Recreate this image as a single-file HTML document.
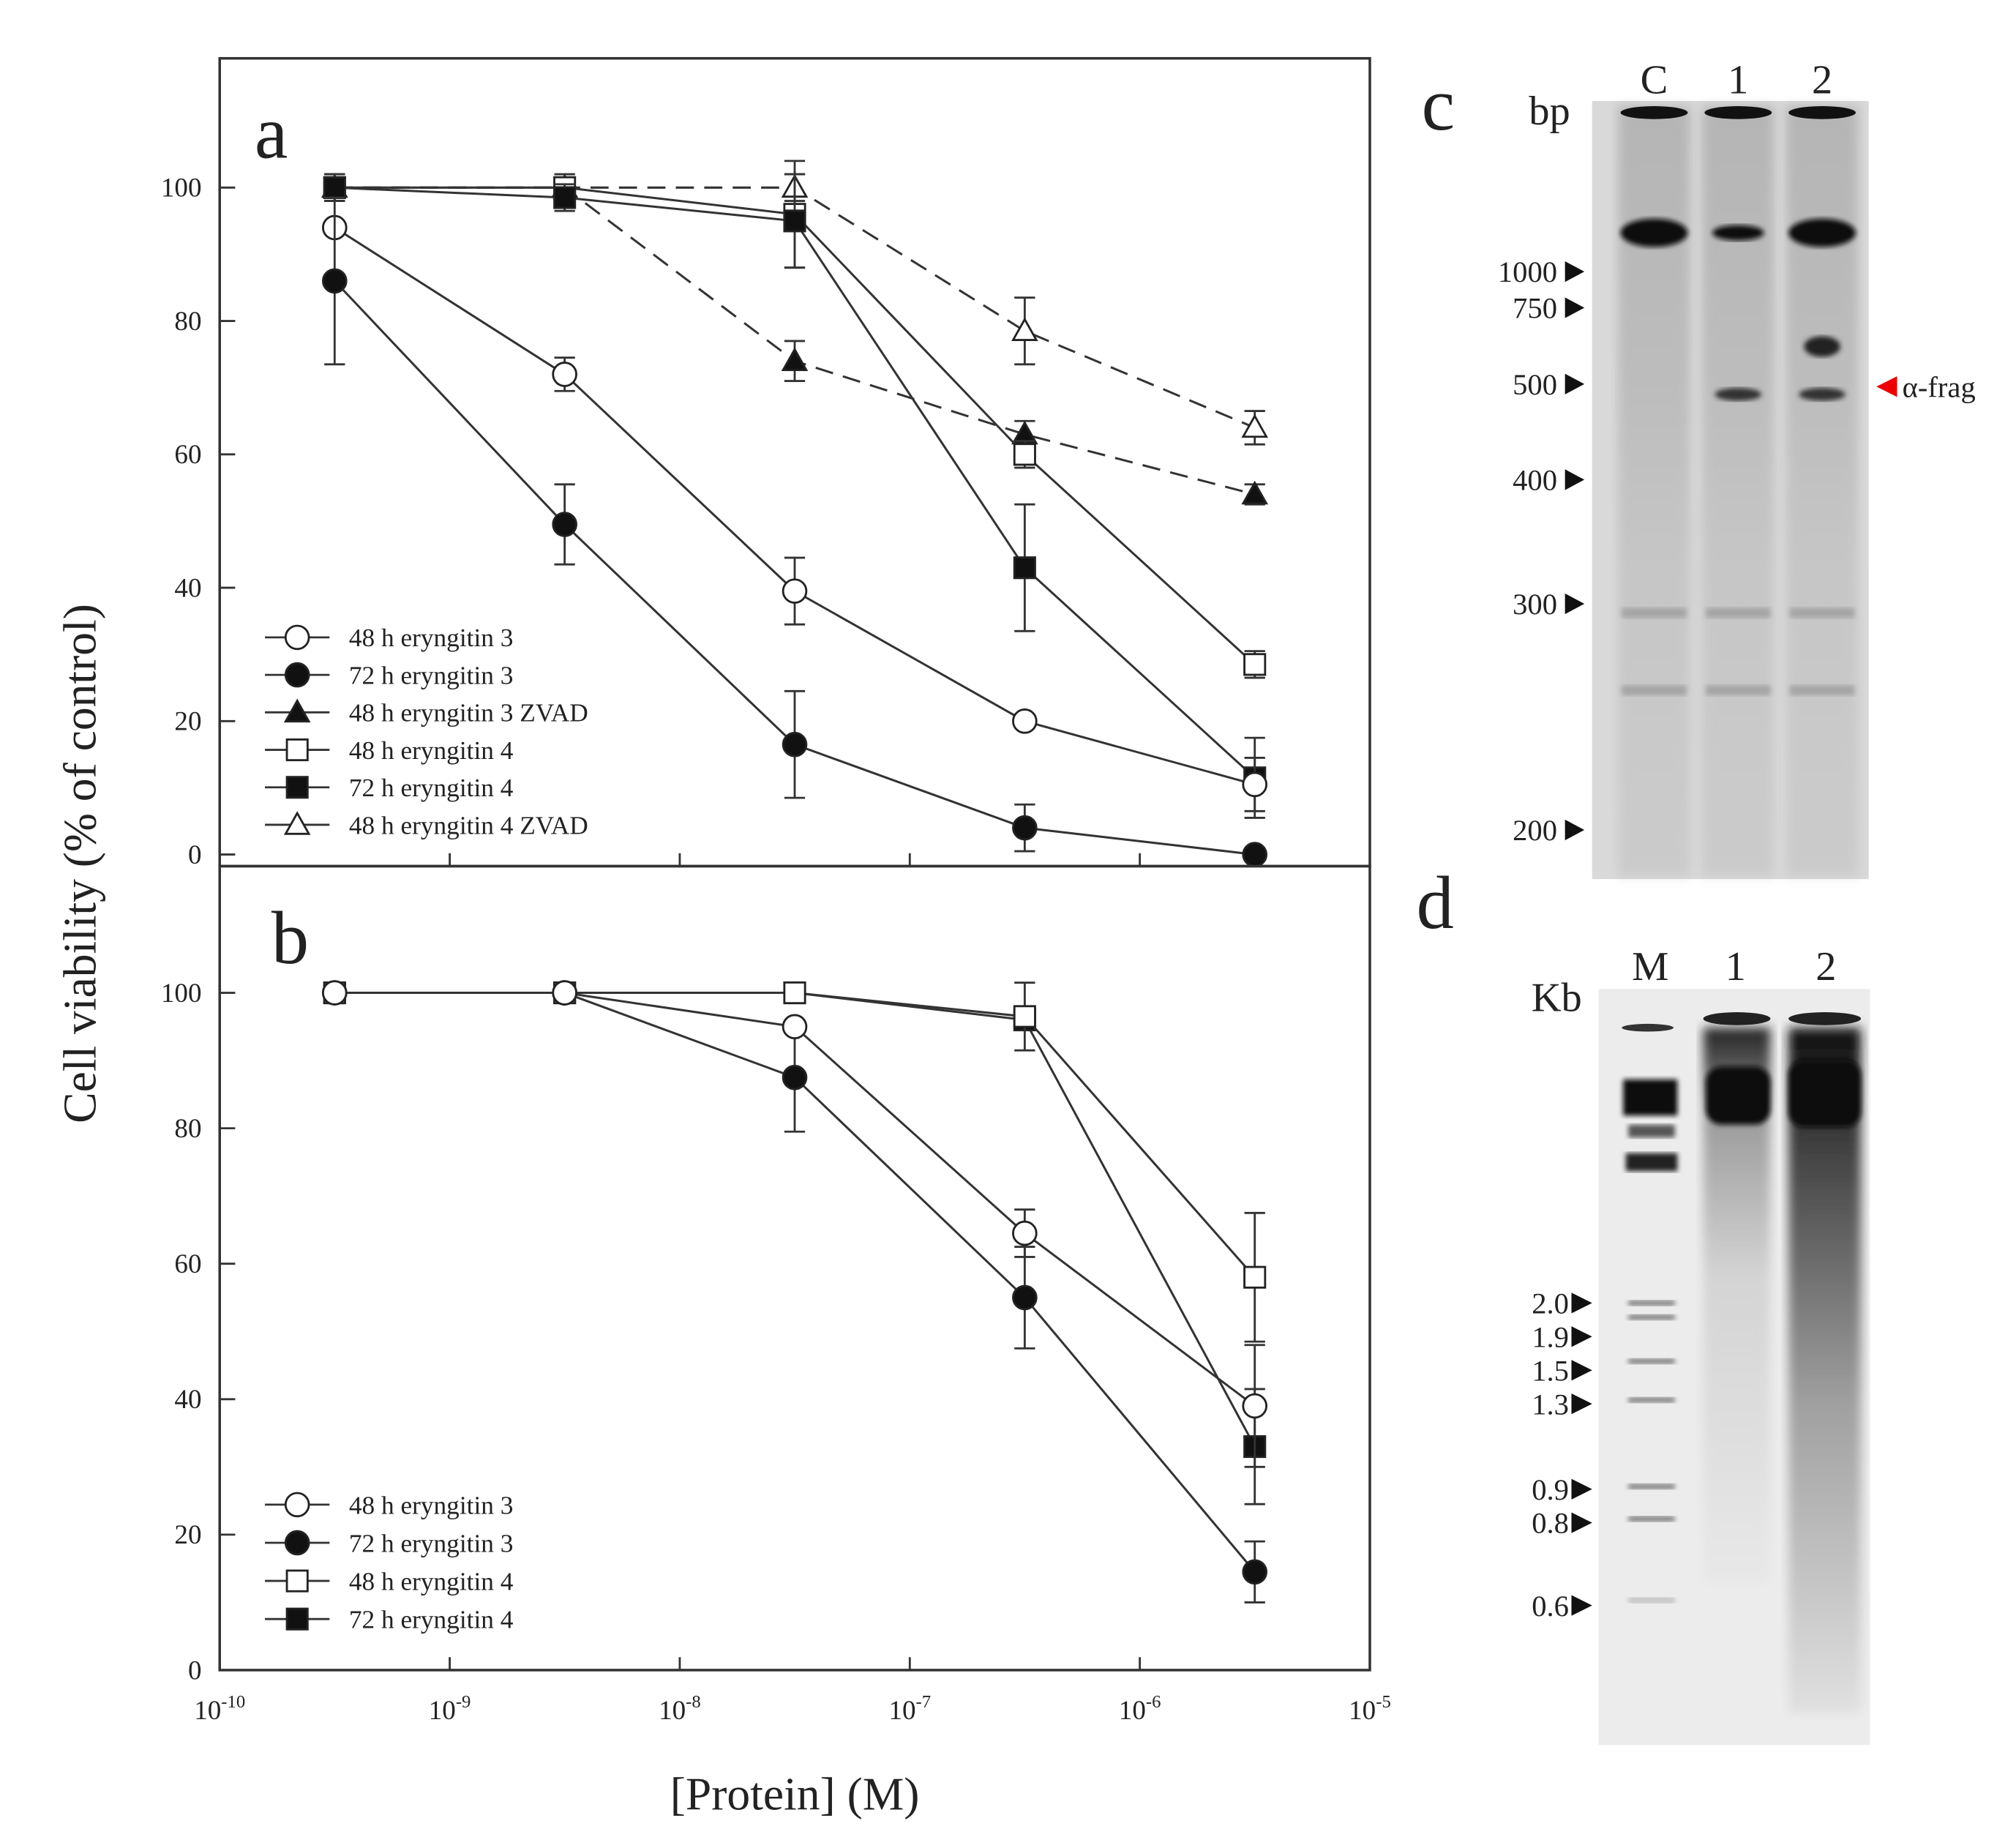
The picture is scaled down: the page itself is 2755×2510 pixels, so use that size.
<!DOCTYPE html>
<html><head><meta charset="utf-8"><style>
html,body{margin:0;padding:0;background:#fff}
svg{display:block}
text{font-family:"Liberation Serif",serif;fill:#222}
</style></head><body>
<svg id="fig" width="2755" height="2510" viewBox="0 0 1560 1421" xmlns="http://www.w3.org/2000/svg">
<defs>
<filter id="blur2"><feGaussianBlur stdDeviation="2"/></filter>
<filter id="blur4"><feGaussianBlur stdDeviation="4"/></filter>
<linearGradient id="laneC" x1="0" y1="0" x2="0" y2="1">
<stop offset="0" stop-color="#8a8a8a"/><stop offset="0.35" stop-color="#9a9a9a"/><stop offset="0.6" stop-color="#b0b0b0"/><stop offset="1" stop-color="#bbb"/></linearGradient>
<linearGradient id="laneD2" x1="0" y1="0" x2="0" y2="1">
<stop offset="0" stop-color="#111"/><stop offset="0.25" stop-color="#555"/><stop offset="0.55" stop-color="#a0a0a0"/><stop offset="1" stop-color="#e0e0e0"/></linearGradient>
<linearGradient id="laneD1" x1="0" y1="0" x2="0" y2="1">
<stop offset="0" stop-color="#222"/><stop offset="0.15" stop-color="#999"/><stop offset="0.45" stop-color="#d4d4d4"/><stop offset="1" stop-color="#e8e8e8"/></linearGradient>
</defs>
<g id="plots"></g>
<g id="gels"></g>
</svg>
<script>
// ---------- DATA ----------
const xConc = [3.16e-10, 3.16e-9, 3.16e-8, 3.16e-7, 3.16e-6];
const xTickLabels = ["10-10","10-9","10-8","10-7","10-6","10-5"];
const yTicks = [0,20,40,60,80,100];
const seriesNamesA = ["48 h eryngitin 3","72 h eryngitin 3","48 h eryngitin 3 ZVAD","48 h eryngitin 4","72 h eryngitin 4","48 h eryngitin 4 ZVAD"];
const a_48e3 = [94, 72, 39.5, 20, 10.5];
const a_48e3_err = [0, 2.5, 5, 1, 4];
const a_72e3 = [86, 49.5, 16.5, 4, 0];
const a_72e3_err = [12.5, 6, 8, 3.5, 0];
const a_48e3z = [100, 100, 74, 63, 54];
const a_48e3z_err = [0, 0, 3, 2, 1.5];
const a_48e4 = [100, 100, 96, 60, 28.5];
const a_48e4_err = [2, 2, 8, 2, 2];
const a_72e4 = [100, 98.5, 95, 43, 11.5];
const a_72e4_err = [2, 2, 7, 9.5, 6];
const a_48e4z = [100, 100, 100, 78.5, 64];
const a_48e4z_err = [2, 1, 2, 5, 2.5];
const seriesNamesB = ["48 h eryngitin 3","72 h eryngitin 3","48 h eryngitin 4","72 h eryngitin 4"];
const b_48e3 = [100, 100, 95, 64.5, 39];
const b_48e3_err = [0, 0, 0, 3.5, 9];
const b_72e3 = [100, 100, 87.5, 55, 14.5];
const b_72e3_err = [0, 0, 8, 7.5, 4.5];
const b_48e4 = [100, 100, 100, 96.5, 58];
const b_48e4_err = [0, 0, 1.5, 5, 9.5];
const b_72e4 = [100, 100, 100, 96, 33];
const b_72e4_err = [0, 0, 0, 0, 8.5];

// ---------- helpers ----------
const NS="http://www.w3.org/2000/svg";
const plots=document.getElementById('plots');
function el(tag,attrs,parent,txt){const e=document.createElementNS(NS,tag);for(const k in attrs)e.setAttribute(k,attrs[k]);if(txt!==undefined)e.textContent=txt;(parent||plots).appendChild(e);return e;}
const X0=170,X1=1060;
function xs(v){return X0+(Math.log10(v)+10)/5*(X1-X0);}
const panelA={top:45,bottom:670,y0:661,y100:145};
const panelB={top:670,bottom:1292,y0:1292,y100:768};
function ysF(p){return v=>p.y0+(p.y100-p.y0)*v/100;}
const ysA=ysF(panelA), ysB=ysF(panelB);

function marker(g,shape,fill,x,y,name){
  let m;const st={fill:fill?'#111':'#fff',stroke:'#222','stroke-width':1.6};
  if(shape==='circle') m=el('circle',Object.assign({cx:x,cy:y,r:9},st),g);
  else if(shape==='square') m=el('rect',Object.assign({x:x-8,y:y-8,width:16,height:16},st),g);
  else m=el('polygon',Object.assign({points:`${x},${y-9} ${x-9},${y+7} ${x+9},${y+7}`},st),g);
  
  
  return m;
}
function series(vals,errs,ys,shape,fill,dash,name){
  const g=el('g',{});
  
  
  const pts=vals.map((v,i)=>[xs(xConc[i]),ys(v)]);
  const ln=el('polyline',{points:pts.map(p=>p.join(',')).join(' '),fill:'none',stroke:'#333','stroke-width':1.7,'stroke-dasharray':dash?'14,8':'none'},g);
  
  
  vals.forEach((v,i)=>{const e=errs[i];if(e>0){const x=pts[i][0];const a=ys(v+e),b=ys(v-e);
    const eb=el('path',{d:`M${x},${a}V${b}M${x-8},${a}H${x+8}M${x-8},${b}H${x+8}`,stroke:'#333','stroke-width':1.6,fill:'none'},g);
    
    }});
  pts.forEach((p,i)=>marker(g,shape,fill,p[0],p[1],name+'-point'));
}
function axes(p,ys,showX,label,letterY){
  const ax=el('rect',{x:X0,y:p.top,width:X1-X0,height:p.bottom-p.top,fill:'none',stroke:'#333','stroke-width':2});
  
  
  yTicks.forEach(t=>{const y=ys(t);
    el('line',{x1:X0,x2:X0+12,y1:y,y2:y,stroke:'#333','stroke-width':1.6});
    const tl=el('text',{x:X0-14,y:y+7,'text-anchor':'end','font-size':21},plots,String(t));
    
    });
  xTickLabels.forEach((lab,i)=>{const x=X0+i*(X1-X0)/5;
    if(i>0&&i<5)el('line',{x1:x,x2:x,y1:p.bottom,y2:p.bottom-10,stroke:'#333','stroke-width':1.6});
    if(showX){const t=el('text',{x:x,y:p.bottom+38,'text-anchor':'middle','font-size':21},plots);
      
      
      const parts=lab.split('-');el('tspan',{},t,parts[0]);el('tspan',{'font-size':14,dy:-9},t,'-'+parts[1]);}
  });
  const L=el('text',{x:label==='a'?197:210,y:letterY,'font-size':58,fill:'#111'},plots,label);
  
  
}
function legend(names,shapes,fills,y0,dy){
  const g=el('g',{});
  
  
  names.forEach((n,i)=>{const y=y0+i*dy;
    const e=el('g',{},g);
    
    
    el('line',{x1:205,x2:255,y1:y,y2:y,stroke:'#333','stroke-width':1.6},e);
    marker(e,shapes[i],fills[i],230,y,'legend-marker');
    el('text',{x:270,y:y+7,'font-size':20,fill:'#444'},e,n);});
}

// panel a
axes(panelA,ysA,false,'a',122);
series(a_48e4z,a_48e4z_err,ysA,'triangle',false,true,'series-48h-e4-zvad');
series(a_48e3z,a_48e3z_err,ysA,'triangle',true,true,'series-48h-e3-zvad');
series(a_48e4,a_48e4_err,ysA,'square',false,false,'series-48h-e4');
series(a_72e4,a_72e4_err,ysA,'square',true,false,'series-72h-e4');
series(a_48e3,a_48e3_err,ysA,'circle',false,false,'series-48h-e3');
series(a_72e3,a_72e3_err,ysA,'circle',true,false,'series-72h-e3');
legend(seriesNamesA,['circle','circle','triangle','square','square','triangle'],[false,true,true,false,true,false],493,29);
// panel b
axes(panelB,ysB,true,'b',745);
series(b_72e4,b_72e4_err,ysB,'square',true,false,'series-b-72h-e4');
series(b_48e4,b_48e4_err,ysB,'square',false,false,'series-b-48h-e4');
series(b_72e3,b_72e3_err,ysB,'circle',true,false,'series-b-72h-e3');
series(b_48e3,b_48e3_err,ysB,'circle',false,false,'series-b-48h-e3');
legend(seriesNamesB,['circle','circle','square','square'],[false,true,false,true],1164,29.5);

const yt=el('text',{transform:'translate(74,668) rotate(-90)','text-anchor':'middle','font-size':36},plots,'Cell viability (% of control)');


const xt=el('text',{x:615,y:1400,'text-anchor':'middle','font-size':36},plots,'[Protein] (M)');



// ---------- gels ----------
const gels=document.getElementById('gels');
function G(tag,attrs,txt,parent){return el(tag,attrs,parent||gels,txt);}
// gel c
const gc=G('g',{});


G('rect',{x:1232,y:78,width:214,height:602,fill:'#d9d9d9'},undefined,gc);
[1280,1345,1410].forEach((cx,i)=>{
  G('rect',{x:cx-28,y:82,width:56,height:596,fill:'url(#laneC)',opacity:0.45,filter:'url(#blur4)'},undefined,gc);
  G('ellipse',{cx:cx,cy:87,rx:26,ry:5,fill:'#111'},undefined,gc);
  G('ellipse',{cx:cx,cy:180,rx:i==1?20:26,ry:i==1?6:11,fill:'#111',filter:'url(#blur2)'},undefined,gc);
  if(i>0)G('ellipse',{cx:cx,cy:305,rx:18,ry:5,fill:'#333',filter:'url(#blur2)'},undefined,gc);
  [470,530].forEach(y=>G('rect',{x:cx-25,y:y,width:50,height:8,fill:'#a5a5a5',filter:'url(#blur2)'},undefined,gc));
});
G('ellipse',{cx:1410,cy:268,rx:14,ry:8,fill:'#222',filter:'url(#blur2)'},undefined,gc);
const cLabels=[['C',1280],['1',1345],['2',1410]];
cLabels.forEach(l=>{const t=G('text',{x:l[1],y:72,'text-anchor':'middle','font-size':32},l[0]);});
G('text',{x:1183,y:96,'font-size':32},'bp');
G('text',{x:1100,y:100,'font-size':58,fill:'#111'},'c');
const bpMarks=[['1000',210],['750',238],['500',297],['400',371],['300',467],['200',642]];
bpMarks.forEach(m=>{const t=G('text',{x:1205,y:m[1]+8,'text-anchor':'end','font-size':23},m[0]);
  
  
  G('polygon',{points:`1211,${m[1]-8} 1211,${m[1]+8} 1226,${m[1]}`,fill:'#111'});});
G('polygon',{points:`1468,${299-8} 1468,${299+8} 1452,299`,fill:'#e00'});
const af=G('text',{x:1472,y:307,'font-size':23},'α-frag');


// gel d
const gd=G('g',{});


G('rect',{x:1237,y:765,width:210,height:585,fill:'#ececec'},undefined,gd);
G('ellipse',{cx:1275,cy:795,rx:20,ry:3,fill:'#333'},undefined,gd);
G('rect',{x:1256,y:835,width:42,height:28,fill:'#111',filter:'url(#blur2)'},undefined,gd);
G('rect',{x:1258,y:892,width:40,height:14,fill:'#222',filter:'url(#blur2)'},undefined,gd);
G('rect',{x:1260,y:870,width:36,height:10,fill:'#555',filter:'url(#blur2)'},undefined,gd);
[1008,1019,1053,1083,1150,1175,1238].forEach((y,i)=>G('rect',{x:1260,y:y-2,width:36,height:4,fill:i==6?'#bbb':'#777',filter:'url(#blur2)'},undefined,gd));
G('rect',{x:1318,y:795,width:52,height:430,fill:'url(#laneD1)',filter:'url(#blur4)'},undefined,gd);
G('rect',{x:1384,y:795,width:56,height:530,fill:'url(#laneD2)',filter:'url(#blur4)'},undefined,gd);
G('ellipse',{cx:1344,cy:788,rx:26,ry:5,fill:'#222'},undefined,gd);
G('ellipse',{cx:1412,cy:788,rx:28,ry:5,fill:'#222'},undefined,gd);
G('rect',{x:1320,y:825,width:50,height:45,rx:12,fill:'#0a0a0a',filter:'url(#blur2)'},undefined,gd);
G('rect',{x:1384,y:820,width:56,height:52,rx:12,fill:'#0a0a0a',filter:'url(#blur2)'},undefined,gd);
[['M',1277],['1',1343],['2',1413]].forEach(l=>{const t=G('text',{x:l[1],y:758,'text-anchor':'middle','font-size':32},l[0]);});
G('text',{x:1185,y:782,'font-size':32},'Kb');
G('text',{x:1096,y:718,'font-size':58,fill:'#111'},'d');
const kbMarks=[['2.0',1008],['1.9',1034],['1.5',1060],['1.3',1086],['0.9',1152],['0.8',1178],['0.6',1242]];
kbMarks.forEach(m=>{const t=G('text',{x:1214,y:m[1]+8,'text-anchor':'end','font-size':23},m[0]);
  
  
  G('polygon',{points:`1216,${m[1]-8} 1216,${m[1]+8} 1232,${m[1]}`,fill:'#111'});});
</script>
</body></html>
